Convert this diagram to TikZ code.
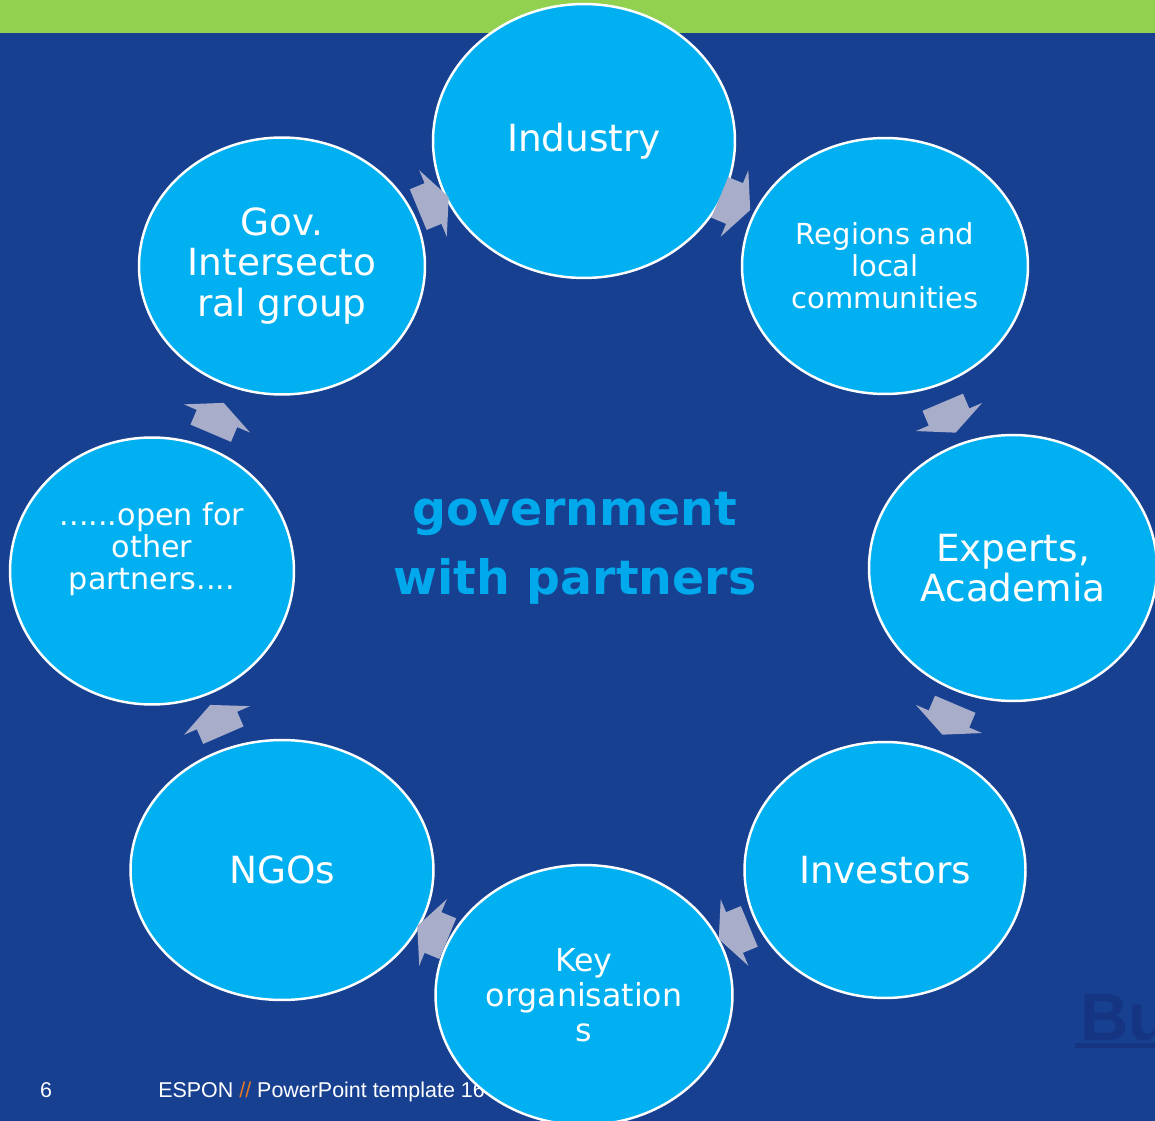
\documentclass[tikz,border=0pt]{standalone}
\usepackage{fontspec}
\setmainfont{DejaVu Sans}
\newfontfamily\arialf{Liberation Sans}
\usetikzlibrary{shapes.geometric,calc}
\definecolor{bg}{RGB}{23,64,145}
\definecolor{topgreen}{RGB}{146,208,80}
\definecolor{circ}{RGB}{0,176,240}
\definecolor{arrowc}{RGB}{168,173,202}
\definecolor{ctext}{RGB}{0,169,236}
\definecolor{bucol}{RGB}{21,53,130}
\definecolor{espor}{RGB}{232,119,34}
\begin{document}
\begin{tikzpicture}[x=0.02cm,y=-0.02cm,
  partner/.style={ellipse, fill=circ, draw=white, line width=1.4pt, inner sep=0pt},
  bigtxt/.style={font=\fontsize{21.3pt}{22.8pt}\selectfont, text=white, align=center, inner sep=0pt},
  regtxt/.style={font=\fontsize{16.5pt}{18.2pt}\selectfont, text=white, align=center, inner sep=0pt},
  keytxt/.style={font=\fontsize{18pt}{19.9pt}\selectfont, text=white, align=center, inner sep=0pt},
  opentxt/.style={font=\fontsize{17.2pt}{18.2pt}\selectfont, text=white, align=center, inner sep=0pt},
  foottxt/.style={font=\arialf\fontsize{12.2pt}{14pt}\selectfont, text=white, inner sep=0pt},
  cyc/.pic={\fill[arrowc] (-16,-22) -- (0,-22) -- (0,-36) -- (17,0) -- (0,36) -- (0,22) -- (-16,22) -- cycle;}]

\useasboundingbox (0,0) rectangle (1155,1121);
\clip (0,0) rectangle (1155,1121);
\fill[bg] (0,0) rectangle (1155,1121);
\fill[topgreen] (0,0) rectangle (1155,33);

% footer and partial title
\node[foottxt, anchor=base] (pg) at (46,1097) {6};
\node[foottxt, anchor=base west] (foot) at (158,1097) {ESPON {\color{espor}//} PowerPoint template 16};
\node[font=\arialf\bfseries\fontsize{38pt}{40pt}\selectfont, text=bucol, anchor=base west, inner sep=0pt] (bu) at (1080,1040) {Bu};
\fill[bucol] (1075,1043) rectangle (1160,1048);

% centre title
\node[font=\bfseries\fontsize{27pt}{39.3pt}\selectfont, text=ctext, align=center, inner sep=0pt] (title) at (575,548) {government\\with partners};

% partners
\node[partner, minimum width=6.04cm, minimum height=5.48cm] (ind) at (584,141) {};
\node[partner, minimum width=5.72cm, minimum height=5.12cm] (reg) at (885,266) {};
\node[partner, minimum width=5.76cm, minimum height=5.32cm] (exp) at (1013,568) {};
\node[partner, minimum width=5.62cm, minimum height=5.12cm] (inv) at (885,870) {};
\node[partner, minimum width=5.94cm, minimum height=5.20cm] (key) at (584,995) {};
\node[partner, minimum width=6.06cm, minimum height=5.20cm] (ngo) at (282,870) {};
\node[partner, minimum width=5.68cm, minimum height=5.34cm] (opn) at (152,571) {};
\node[partner, minimum width=5.72cm, minimum height=5.14cm] (gov) at (282,266) {};

% labels
\node[bigtxt] (tind) at (ind.center) {Industry};
\node[regtxt] (treg) at (reg.center) {Regions and\\local\\communities};
\node[bigtxt] (texp) at (exp.center) {Experts,\\Academia};
\node[bigtxt] (tinv) at (inv.center) {Investors};
\node[keytxt] (tkey) at (key.center) {Key\\organisation\\s};
\node[bigtxt] (tngo) at (ngo.center) {NGOs};
\node[opentxt] (topn) at ($(opn.center)+(0,-22)$) {......open for\\other\\partners....};
\node[bigtxt] (tgov) at (gov.center) {Gov.\\Intersecto\\ral group};

% cycle arrows
\foreach \a/\b in {gov/ind, ind/reg, reg/exp, exp/inv, inv/key, key/ngo, ngo/opn, opn/gov}{
  \path let \p1=($(\b.center)-(\a.center)$), \n1={atan2(\y1,\x1)} in
    ($(\a.center)!0.5!(\b.center)$) pic[rotate=\n1]{cyc};
}
\end{tikzpicture}
\end{document}
